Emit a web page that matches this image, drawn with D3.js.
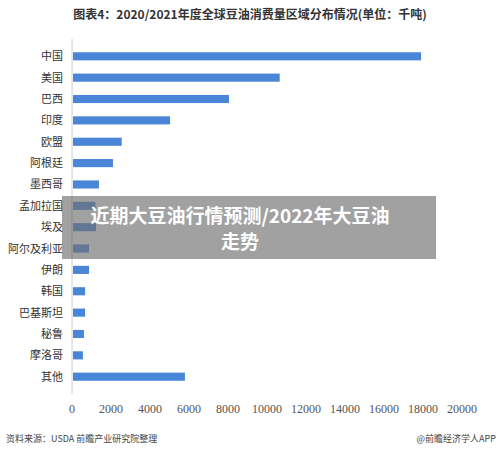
<!DOCTYPE html><html><head><meta charset="utf-8"><script src="https://cdn.jsdelivr.net/npm/d3@7"></script>
<style>body{margin:0;background:#fff}svg{display:block}</style></head><body><svg width="500" height="455"></svg>
<script>
const categories=["中国","美国","巴西","印度","欧盟","阿根廷","墨西哥","孟加拉国","埃及","阿尔及利亚","伊朗","韩国","巴基斯坦","秘鲁","摩洛哥","其他"];
const values=[17850,10600,8000,4980,2500,2050,1330,1150,1180,820,820,620,620,560,510,5740];
const ticks=[0,2000,4000,6000,8000,10000,12000,14000,16000,18000,20000];
const svg=d3.select("svg"),F="'Noto Sans CJK SC',sans-serif";
const x=d3.scaleLinear().domain([0,20000]).range([72,462]);
const y=d3.scaleBand().domain(categories).range([39,394]).padding(0.62);
svg.append("text").attr("x",250).attr("y",19).attr("text-anchor","middle").attr("font-family",F).attr("font-weight","bold").attr("font-size",12).attr("fill","#333").text("图表4：2020/2021年度全球豆油消费量区域分布情况(单位：千吨)");
svg.append("line").attr("x1",72).attr("x2",72).attr("y1",39).attr("y2",394).attr("stroke","#ccc");
svg.selectAll("rect.b").data(categories).join("rect").attr("x",x(0)+1).attr("y",d=>y(d)).attr("height",y.bandwidth()).attr("width",(d,i)=>x(values[i])-x(0)).attr("fill","#4a86d8");
svg.selectAll("text.c").data(categories).join("text").attr("x",63).attr("y",d=>y(d)+y.bandwidth()/2+4).attr("text-anchor","end").attr("font-family",F).attr("font-size",11).attr("fill","#333").text(d=>d);
svg.selectAll("text.t").data(ticks).join("text").attr("x",d=>x(d)).attr("y",413).attr("text-anchor","middle").attr("font-family","'Liberation Serif',serif").attr("font-size",12).attr("fill","#555").text(d=>d);
svg.append("text").attr("x",6).attr("y",442).attr("font-family",F).attr("font-size",9).attr("fill","#444").text("资料来源：USDA 前瞻产业研究院整理");
svg.append("text").attr("x",496).attr("y",442).attr("text-anchor","end").attr("font-family",F).attr("font-size",9).attr("fill","#444").text("@前瞻经济学人APP");
svg.append("rect").attr("x",62).attr("y",196).attr("width",374).attr("height",63).attr("fill","rgba(110,110,110,0.65)");
const ov=svg.append("text").attr("text-anchor","middle").attr("font-family",F).attr("font-weight","bold").attr("font-size",19).attr("fill","#fff");
ov.append("tspan").attr("x",240).attr("y",223).text("近期大豆油行情预测/2022年大豆油");
ov.append("tspan").attr("x",240).attr("y",249).text("走势");
</script></body></html>
